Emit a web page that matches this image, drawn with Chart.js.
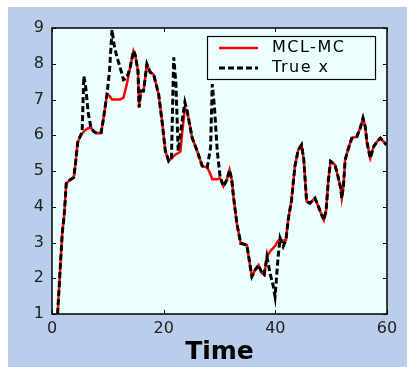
<!DOCTYPE html>
<html>
<head>
<meta charset="utf-8">
<script src="https://cdn.jsdelivr.net/npm/chart.js@4"></script>
<style>
  html, body { margin: 0; padding: 0; background: #fff; }
  #wrap { position: relative; width: 414px; height: 367px; }
</style>
</head>
<body>
<div id="wrap"><canvas id="plot" width="414" height="367"></canvas></div>
<script>
// time axis samples shared by both series
const timeSteps = [1.0, 1.3, 1.55, 1.85, 2.15, 2.35, 2.55, 3.2, 3.9, 4.2, 4.6, 5.0, 5.4, 5.7, 6.0, 6.5, 7.0, 7.5,
  8.1, 8.8, 9.25, 9.85, 10.3, 10.75, 11.1, 11.6, 12.2, 12.8, 13.4, 14.0, 14.6, 14.9, 15.4, 15.6, 15.9, 16.4,
  17.0, 17.6, 18.2, 19.1, 19.7, 20.3, 20.9, 21.4, 21.8, 22.2, 22.6, 23.0, 23.4, 23.8, 24.2, 25.1, 26.0, 26.9,
  27.8, 28.4, 28.7, 29.1, 29.6, 30.1, 30.7, 31.3, 31.8, 32.2, 32.5, 33.1, 33.8, 34.9, 35.5, 35.8, 36.4, 37.0,
  37.6, 38.0, 38.5, 39.05, 39.65, 39.95, 40.5, 40.85, 41.4, 41.9, 42.3, 42.9, 43.5, 44.1, 44.7, 45.1, 45.6,
  46.2, 47.1, 47.7, 48.3, 48.7, 49.1, 49.5, 49.9, 50.7, 51.3, 51.7, 51.9, 52.2, 52.5, 53.1, 53.7, 54.6, 55.2,
  55.7, 56.1, 56.4, 57.0, 57.6, 58.2, 58.8, 59.4, 59.9];

const trueX = [1.0, 1.8, 2.5, 3.3, 3.7, 4.15, 4.65, 4.75, 4.82, 5.2, 5.8, 5.95, 6.1, 7.65, 7.4, 6.6, 6.2, 6.1,
  6.05, 6.07, 6.5, 7.15, 7.8, 8.95, 8.55, 8.2, 7.9, 7.55, 7.6, 7.9, 8.36, 8.25, 7.8, 6.78, 7.24, 7.24,
  7.99, 7.76, 7.7, 7.15, 6.4, 5.56, 5.28, 5.37, 8.18, 7.43, 5.56, 6.03, 6.5, 6.92, 6.68, 5.93, 5.56, 5.14,
  5.1, 5.65, 7.43, 6.78, 5.56, 4.85, 4.57, 4.75, 5.03, 4.75, 4.29, 3.54, 2.98, 2.93, 2.33, 2.05, 2.24, 2.37,
  2.14, 2.1, 2.6, 2.14, 1.77, 1.49, 2.6, 3.12, 2.89, 3.07, 3.63, 4.19, 5.13, 5.59, 5.73, 5.31, 4.15,
  4.1, 4.24, 4.01, 3.77, 3.63, 3.91, 4.75, 5.27, 5.17, 4.8, 4.52, 4.24, 4.57, 5.31, 5.64, 5.92, 5.96, 6.2,
  6.48, 6.24, 5.82, 5.36, 5.68, 5.82, 5.92, 5.82, 5.73];

const mclMC = [1.0, 1.8, 2.5, 3.3, 3.7, 4.15, 4.65, 4.75, 4.82, 5.2, 5.8, 5.95, 6.05, 6.1, 6.15, 6.2, 6.2, 6.1,
  6.05, 6.07, 6.5, 7.15, 7.1, 7.0, 7.0, 7.0, 7.0, 7.05, 7.43, 7.9, 8.36, 8.25, 7.8, 6.78, 7.24, 7.24,
  7.99, 7.76, 7.7, 7.15, 6.4, 5.56, 5.28, 5.35, 5.42, 5.47, 5.5, 5.55, 6.2, 6.75, 6.68, 5.93, 5.56, 5.14,
  5.1, 4.9, 4.77, 4.77, 4.77, 4.8, 4.57, 4.75, 5.03, 4.75, 4.29, 3.54, 2.98, 2.93, 2.33, 2.05, 2.24, 2.37,
  2.14, 2.1, 2.6, 2.75, 2.85, 2.9, 3.05, 3.1, 3.05, 3.07, 3.63, 4.19, 5.13, 5.59, 5.73, 5.31, 4.15,
  4.1, 4.24, 4.01, 3.77, 3.63, 3.91, 4.75, 5.27, 5.17, 4.8, 4.52, 4.24, 4.57, 5.31, 5.64, 5.92, 5.96, 6.2,
  6.48, 6.24, 5.82, 5.36, 5.68, 5.82, 5.92, 5.82, 5.73];

const seriesNames = ["MCL-MC", "True x"];
const xTicks = [0, 20, 40, 60];
const yTicks = [1, 2, 3, 4, 5, 6, 7, 8, 9];

function toPoints(xs, ys) {
    return xs.map((x, i) => ({ x: x, y: ys[i] }));
}

// backgrounds, frame, inward ticks and the boxed legend
const framePlugin = {
    id: "frame",
    beforeDraw(chart) {
        const ctx = chart.ctx;
        const a = chart.chartArea;
        ctx.save();
        ctx.fillStyle = "#bacdeb";
        ctx.fillRect(8, 7, 399, 360);
        ctx.fillStyle = "#ebffff";
        ctx.fillRect(a.left, a.top, a.right - a.left, a.bottom - a.top);
        ctx.restore();
    },
    afterDraw(chart) {
        const ctx = chart.ctx;
        const a = chart.chartArea;
        const xs = chart.scales.x;
        const ys = chart.scales.y;
        ctx.save();
        ctx.strokeStyle = "#000";
        ctx.lineWidth = 1;
        ctx.beginPath();
        xTicks.forEach(v => {
            const px = Math.round(xs.getPixelForValue(v)) + 0.5;
            ctx.moveTo(px, a.bottom); ctx.lineTo(px, a.bottom - 4);
            ctx.moveTo(px, a.top); ctx.lineTo(px, a.top + 4);
        });
        yTicks.forEach(v => {
            const py = Math.round(ys.getPixelForValue(v)) + 0.5;
            ctx.moveTo(a.left, py); ctx.lineTo(a.left + 4, py);
            ctx.moveTo(a.right, py); ctx.lineTo(a.right - 4, py);
        });
        ctx.stroke();
        ctx.lineWidth = 1.5;
        ctx.strokeRect(a.left, a.top, a.right - a.left, a.bottom - a.top);

        // legend
        const lx = 207, ly = 36, lw = 168, lh = 43;
        ctx.fillStyle = "#ebffff";
        ctx.fillRect(lx, ly, lw, lh);
        ctx.lineWidth = 1.2;
        ctx.strokeRect(lx + 0.5, ly + 0.5, lw, lh);
        ctx.font = "16px 'DejaVu Sans'";
        ctx.textBaseline = "middle";
        ctx.letterSpacing = "1.5px";
        chart.data.datasets.forEach((ds, i) => {
            const y = ly + 12 + i * 20;
            ctx.strokeStyle = ds.borderColor;
            ctx.lineWidth = ds.borderWidth;
            ctx.setLineDash(ds.borderDash || []);
            ctx.beginPath();
            ctx.moveTo(lx + 12, y);
            ctx.lineTo(lx + 51, y);
            ctx.stroke();
            ctx.setLineDash([]);
            ctx.fillStyle = "#000";
            ctx.fillText(ds.label, lx + 65, y);
        });
        ctx.restore();
    }
};

new Chart(document.getElementById("plot"), {
    type: "scatter",
    data: {
        datasets: [
            {
                label: seriesNames[0],
                data: toPoints(timeSteps, mclMC),
                showLine: true,
                borderColor: "#ff0000",
                borderWidth: 2.5,
                pointRadius: 0,
                order: 2,
            },
            {
                label: seriesNames[1],
                data: toPoints(timeSteps, trueX),
                showLine: true,
                borderColor: "#000000",
                borderWidth: 3,
                borderDash: [6, 3],
                pointRadius: 0,
                order: 1,
            },
        ],
    },
    options: {
        responsive: false,
        animation: false,
        events: [],
        layout: { padding: { top: 28, right: 27, left: 0, bottom: 0 } },
        plugins: {
            legend: { display: false },
            tooltip: { enabled: false },
        },
        scales: {
            x: {
                type: "linear",
                min: 0,
                max: 60,
                afterFit: s => { s.height = 53; },
                afterBuildTicks: s => { s.ticks = xTicks.map(v => ({ value: v })); },
                grid: { display: false, drawTicks: false },
                border: { display: false },
                ticks: { color: "#222", padding: 5, font: { family: "DejaVu Sans", size: 16 } },
                title: {
                    display: true,
                    text: "Time",
                    color: "#000",
                    padding: { top: 0, bottom: 0 },
                    font: { family: "DejaVu Sans", size: 25, weight: "bold" },
                },
            },
            y: {
                type: "linear",
                min: 1,
                max: 9,
                afterFit: s => { s.width = 52; },
                afterBuildTicks: s => { s.ticks = yTicks.map(v => ({ value: v })); },
                grid: { display: false, drawTicks: false },
                border: { display: false },
                ticks: { color: "#222", padding: 8, font: { family: "DejaVu Sans", size: 16 } },
            },
        },
    },
    plugins: [framePlugin],
});
</script>
</body>
</html>
